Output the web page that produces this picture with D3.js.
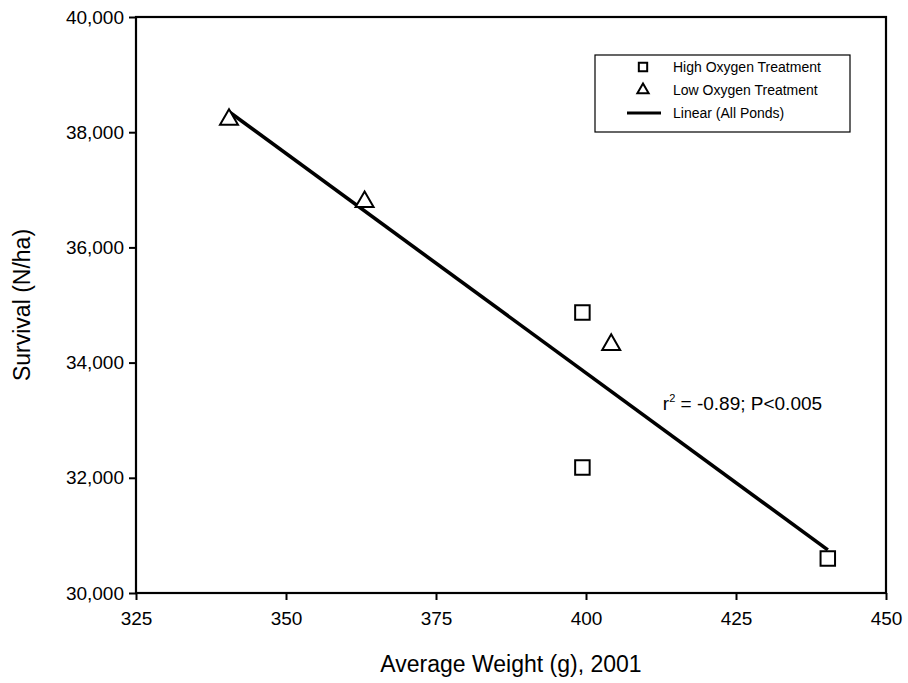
<!DOCTYPE html>
<html>
<head>
<meta charset="utf-8">
<script src="https://cdn.jsdelivr.net/npm/d3@7"></script>
<style>
  body { margin: 0; background: #fff; }
  svg text { font-family: "Liberation Sans", Arial, sans-serif; fill: #000; }
</style>
</head>
<body>
<svg id="chart" width="908" height="683"></svg>
<script>
// data
const highWeight = [399.4, 399.4, 440.3];
const highSurvival = [34870, 32180, 30600];
const lowWeight = [340.5, 363.1, 404.2];
const lowSurvival = [38220, 36790, 34310];

const xTicks = [325, 350, 375, 400, 425, 450];
const yTicks = [30000, 32000, 34000, 36000, 38000, 40000];

const legendLabels = ["High Oxygen Treatment", "Low Oxygen Treatment", "Linear (All Ponds)"];
const statText = "= -0.89; P<0.005";

const margin = { top: 17, right: 22, bottom: 90, left: 136 };
const width = 908 - margin.left - margin.right;
const height = 683 - margin.top - margin.bottom;

const svg = d3.select('#chart');
const g = svg.append('g').attr('transform', `translate(${margin.left},${margin.top})`);

const x = d3.scaleLinear().domain([325, 450]).range([0, width]);
const y = d3.scaleLinear().domain([30000, 40000]).range([height, 0]);

// axes
const xAxis = g.append('g')
  .attr('transform', `translate(0,${height})`)
  .call(d3.axisBottom(x).tickValues(xTicks).tickSize(7).tickPadding(12));
const yAxis = g.append('g')
  .call(d3.axisLeft(y).tickValues(yTicks).tickSize(7).tickPadding(5).tickFormat(d3.format(',')));

[xAxis, yAxis].forEach(a => {
  a.select('.domain').remove();
  a.selectAll('line').attr('stroke', '#000').attr('stroke-width', 2);
  a.selectAll('text').style('font-size', '19px').attr('fill', '#000');
});

// plot frame
g.append('rect')
  .attr('width', width).attr('height', height)
  .attr('fill', 'none').attr('stroke', '#000').attr('stroke-width', 2.2);

// trend line (all ponds) - least squares
const allW = highWeight.concat(lowWeight);
const allS = highSurvival.concat(lowSurvival);
const mw = d3.mean(allW), ms = d3.mean(allS);
let sxy = 0, sxx = 0;
allW.forEach((w, i) => { sxy += (w - mw) * (allS[i] - ms); sxx += (w - mw) * (w - mw); });
const slope = sxy / sxx;
const intercept = ms - slope * mw;
const trendW = d3.extent(allW);

g.append('line')
  .attr('x1', x(trendW[0])).attr('y1', y(intercept + slope * trendW[0]))
  .attr('x2', x(trendW[1])).attr('y2', y(intercept + slope * trendW[1]))
  .attr('stroke', '#000').attr('stroke-width', 3.6);

// markers
const sq = d3.symbol().type(d3.symbolSquare).size(210);
const tri = d3.symbol().type(d3.symbolTriangle).size(140);

g.selectAll('.high')
  .data(highWeight)
  .join('path')
  .attr('class', 'high')
  .attr('d', sq)
  .attr('transform', (d, i) => `translate(${x(d)},${y(highSurvival[i])})`)
  .attr('fill', '#fff').attr('stroke', '#000').attr('stroke-width', 2);

g.selectAll('.low')
  .data(lowWeight)
  .join('path')
  .attr('class', 'low')
  .attr('d', tri)
  .attr('transform', (d, i) => `translate(${x(d)},${y(lowSurvival[i])})`)
  .attr('fill', '#fff').attr('stroke', '#000').attr('stroke-width', 2);

// r2 note
const note = g.append('text')
  .attr('x', x(412.8)).attr('y', y(33180))
  .style('font-size', '19px');
note.append('tspan').text('r');
note.append('tspan').attr('dy', -8).style('font-size', '11px').text('2');
note.append('tspan').attr('dy', 8).text(' ' + statText);

// legend
const leg = svg.append('g').attr('transform', 'translate(595,55)');
leg.append('rect').attr('width', 255).attr('height', 77)
  .attr('fill', '#fff').attr('stroke', '#000').attr('stroke-width', 1.2);
const rowY = [12, 35, 58];
leg.append('path').attr('d', d3.symbol().type(d3.symbolSquare).size(70))
  .attr('transform', `translate(48,${rowY[0]})`)
  .attr('fill', '#fff').attr('stroke', '#000').attr('stroke-width', 2);
leg.append('path').attr('d', d3.symbol().type(d3.symbolTriangle).size(55))
  .attr('transform', `translate(48,${rowY[1]})`)
  .attr('fill', '#fff').attr('stroke', '#000').attr('stroke-width', 2);
leg.append('line').attr('x1', 32).attr('x2', 66).attr('y1', rowY[2]).attr('y2', rowY[2])
  .attr('stroke', '#000').attr('stroke-width', 3.2);
leg.selectAll('.lab')
  .data(legendLabels)
  .join('text')
  .attr('class', 'lab')
  .attr('x', 78)
  .attr('y', (d, i) => rowY[i] + 5)
  .style('font-size', '14px')
  .text(d => d);

// axis titles
svg.append('text')
  .attr('x', margin.left + width / 2).attr('y', 672)
  .attr('text-anchor', 'middle')
  .style('font-size', '23px')
  .text('Average Weight (g), 2001');

svg.append('text')
  .attr('transform', `translate(30,${margin.top + height / 2}) rotate(-90)`)
  .attr('text-anchor', 'middle')
  .style('font-size', '23px')
  .text('Survival (N/ha)');
</script>
</body>
</html>
